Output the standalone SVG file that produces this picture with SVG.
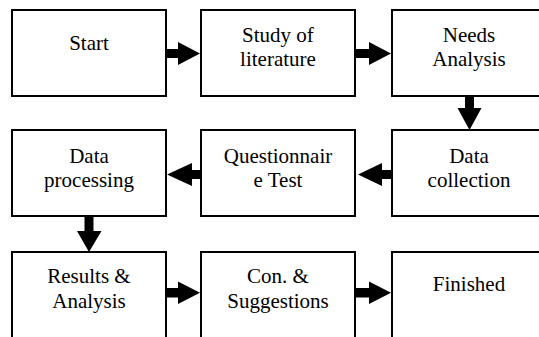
<svg xmlns="http://www.w3.org/2000/svg" width="539" height="337" viewBox="0 0 539 337">
<rect width="539" height="337" fill="#fff"/>
<g id="n1"><rect fill="#fff" stroke="#000" stroke-width="2" x="12" y="10" width="154" height="86"/><text font-family="Liberation Serif" font-size="21" text-anchor="middle" x="89" y="50">Start</text></g>
<g id="n2"><rect fill="#fff" stroke="#000" stroke-width="2" x="201" y="10" width="154" height="86"/><text font-family="Liberation Serif" font-size="21" text-anchor="middle" x="278" y="41.7">Study of</text><text font-family="Liberation Serif" font-size="21" text-anchor="middle" x="278" y="66.2">literature</text></g>
<g id="n3"><rect fill="#fff" stroke="#000" stroke-width="2" x="392" y="10" width="154" height="86"/><text font-family="Liberation Serif" font-size="21" text-anchor="middle" x="469" y="41.7">Needs</text><text font-family="Liberation Serif" font-size="21" text-anchor="middle" x="469" y="66.2">Analysis</text></g>
<g id="n4"><rect fill="#fff" stroke="#000" stroke-width="2" x="392" y="130" width="154" height="86"/><text font-family="Liberation Serif" font-size="21" text-anchor="middle" x="469" y="162.7">Data</text><text font-family="Liberation Serif" font-size="21" text-anchor="middle" x="469" y="187.2">collection</text></g>
<g id="n5"><rect fill="#fff" stroke="#000" stroke-width="2" x="201" y="130" width="154" height="86"/><text font-family="Liberation Serif" font-size="21" text-anchor="middle" x="278" y="162.7">Questionnair</text><text font-family="Liberation Serif" font-size="21" text-anchor="middle" x="278" y="187.2">e Test</text></g>
<g id="n6"><rect fill="#fff" stroke="#000" stroke-width="2" x="12" y="130" width="154" height="86"/><text font-family="Liberation Serif" font-size="21" text-anchor="middle" x="89" y="162.7">Data</text><text font-family="Liberation Serif" font-size="21" text-anchor="middle" x="89" y="187.2">processing</text></g>
<g id="n7"><rect fill="#fff" stroke="#000" stroke-width="2" x="12" y="252" width="154" height="100"/><text font-family="Liberation Serif" font-size="21" text-anchor="middle" x="89" y="283.3">Results &#38;</text><text font-family="Liberation Serif" font-size="21" text-anchor="middle" x="89" y="307.8">Analysis</text></g>
<g id="n8"><rect fill="#fff" stroke="#000" stroke-width="2" x="201" y="252" width="154" height="100"/><text font-family="Liberation Serif" font-size="21" text-anchor="middle" x="278" y="283.3">Con. &#38;</text><text font-family="Liberation Serif" font-size="21" text-anchor="middle" x="278" y="307.8">Suggestions</text></g>
<g id="n9"><rect fill="#fff" stroke="#000" stroke-width="2" x="392" y="252" width="154" height="100"/><text font-family="Liberation Serif" font-size="21" text-anchor="middle" x="469" y="290.5">Finished</text></g>
<g id="connectors" fill="#000">
<polygon points="167,49 178,49 178,42 200,53.5 178,65 178,58 167,58"/>
<polygon points="356,49 369,49 369,42 391,53.5 369,65 369,58 356,58"/>
<polygon points="465,97 474,97 474,108 481.5,108 469.5,130 457.5,108 465,108"/>
<polygon points="391,170 382,170 382,163 358,174.5 382,186 382,179 391,179"/>
<polygon points="200,170 192,170 192,163 167,174.5 192,186 192,179 200,179"/>
<polygon points="84.5,217 93.5,217 93.5,231 101.5,231 89,252 77,231 84.5,231"/>
<polygon points="167,288 178,288 178,281.5 200,292.8 178,304 178,297.5 167,297.5"/>
<polygon points="356,288 369,288 369,281.5 391,292.8 369,304 369,297.5 356,297.5"/>
</g>
</svg>
